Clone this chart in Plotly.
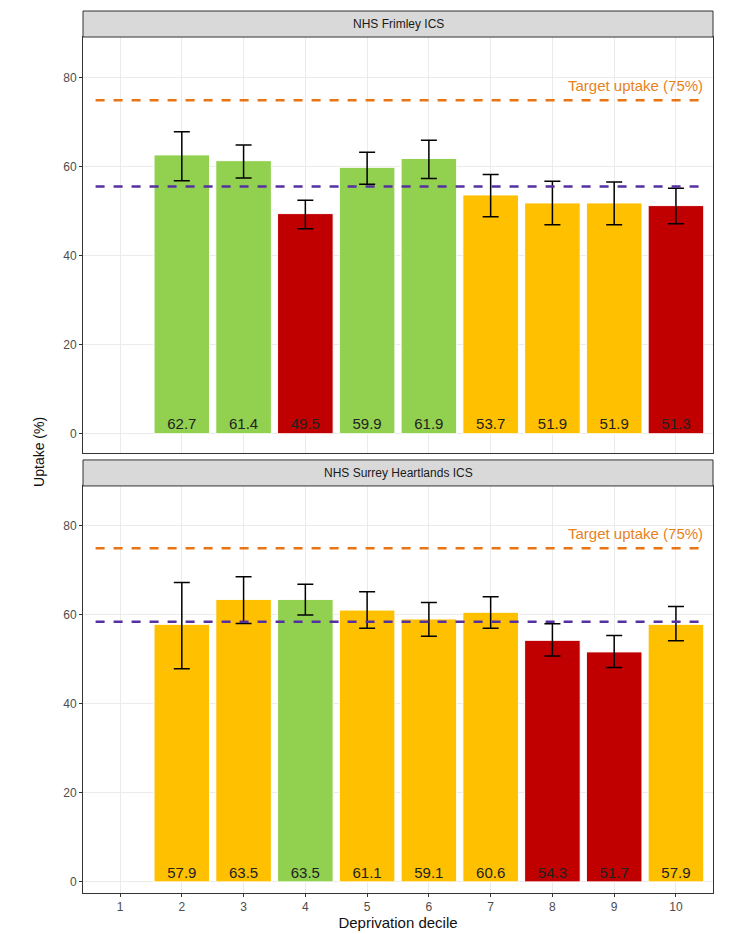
import plotly.graph_objects as go

deciles = [2, 3, 4, 5, 6, 7, 8, 9, 10]

frimley_uptake = [62.7, 61.4, 49.5, 59.9, 61.9, 53.7, 51.9, 51.9, 51.3]
frimley_upper = [67.9, 64.9, 52.5, 63.3, 66.0, 58.3, 56.8, 56.6, 55.2]
frimley_lower = [56.9, 57.5, 46.1, 56.1, 57.4, 48.8, 47.0, 47.0, 47.2]
frimley_rag = ["g", "g", "r", "g", "g", "a", "a", "a", "r"]
frimley_mean = 55.6

surrey_uptake = [57.9, 63.5, 63.5, 61.1, 59.1, 60.6, 54.3, 51.7, 57.9]
surrey_upper = [67.3, 68.6, 66.9, 65.2, 62.8, 64.1, 58.0, 55.4, 61.9]
surrey_lower = [47.9, 58.1, 60.0, 57.0, 55.2, 57.0, 50.8, 48.2, 54.2]
surrey_rag = ["a", "a", "g", "a", "a", "a", "r", "r", "a"]
surrey_mean = 58.5

target = 75
colours = {"g": "#92D050", "r": "#C00000", "a": "#FFC000"}

fig = go.Figure()

# name, values, upper, lower, rag, mean, x axis, y axis, domain, y range
panels = [
    ("NHS Frimley ICS", frimley_uptake, frimley_upper, frimley_lower, frimley_rag, frimley_mean,
     "x", "y", [0.499, 0.9705], [-4.3, 89.2]),
    ("NHS Surrey Heartlands ICS", surrey_uptake, surrey_upper, surrey_lower, surrey_rag, surrey_mean,
     "x2", "y2", [0.0, 0.4615], [-2.5, 89.0]),
]

for name, up, hi, lo, rag, mean, xax, yax, dom, rng in panels:
    fig.add_trace(go.Bar(
        x=deciles, y=up, xaxis=xax, yaxis=yax, width=0.9,
        marker=dict(color=[colours[c] for c in rag], line=dict(color="white", width=1)),
        error_y=dict(type="data", symmetric=False,
                     array=[h - u for h, u in zip(hi, up)],
                     arrayminus=[u - l for u, l in zip(up, lo)],
                     color="black", thickness=1.5, width=8),
        showlegend=False))
    fig.add_trace(go.Scatter(
        x=deciles, y=[1.8] * len(deciles), xaxis=xax, yaxis=yax, mode="text",
        text=[f"{v:.1f}" for v in up], textfont=dict(size=15, color="#222"),
        showlegend=False, hoverinfo="skip"))
    for val, col in [(target, "#E87511"), (mean, "#5530A0")]:
        fig.add_shape(type="line", xref=xax + " domain", yref=yax, x0=0.02, x1=0.98, y0=val, y1=val,
                      line=dict(color=col, dash="dash", width=2.5))
    fig.add_annotation(x=10.47, y=target + 1, xref=xax, yref=yax, text="Target uptake (75%)",
                       showarrow=False, xanchor="right", yanchor="bottom",
                       font=dict(size=15, color="#E8821E"))
    # strip header
    top = dom[1]
    fig.add_shape(type="rect", xref="paper", yref="paper", x0=0, x1=1, y0=top, y1=top + 0.0295,
                  fillcolor="#D9D9D9", line=dict(color="#333", width=1))
    fig.add_annotation(x=0.5, y=top + 0.0147, xref="paper", yref="paper", text=name,
                       showarrow=False, yanchor="middle", font=dict(size=12, color="#1a1a1a"))
    fig.layout["yaxis" if yax == "y" else "yaxis2"] = dict(
        domain=dom, range=rng, tickvals=[0, 20, 40, 60, 80], automargin=False,
        showgrid=True, gridcolor="#EBEBEB", zeroline=False,
        ticks="outside", ticklen=3, tickcolor="#333",
        tickfont=dict(size=12, color="#4D4D4D"),
        showline=True, mirror=True, linecolor="#333", linewidth=1, anchor=xax)

xaxis_common = dict(range=[0.4, 10.6], tickvals=list(range(1, 11)), showgrid=True, automargin=False,
                    gridcolor="#EBEBEB", zeroline=False, showline=True, mirror=True,
                    linecolor="#333", linewidth=1)
fig.update_layout(
    xaxis=dict(**xaxis_common, showticklabels=False, anchor="y"),
    xaxis2=dict(**xaxis_common, anchor="y2", ticks="outside", ticklen=3,
                tickcolor="#333", tickfont=dict(size=12, color="#4D4D4D"),
                title=dict(text="Deprivation decile", font=dict(size=15, color="#111"), standoff=4)),
)

fig.add_annotation(x=-0.07, y=0.5, xref="paper", yref="paper", text="Uptake (%)", textangle=-90,
                   xanchor="center", showarrow=False, font=dict(size=14, color="#111"))

fig.update_layout(width=733, height=934, margin=dict(l=75, r=28, t=3, b=49, autoexpand=False),
                  plot_bgcolor="white", paper_bgcolor="white",
                  font=dict(family="Liberation Sans, Arial, sans-serif"))

fig.write_html("out.html")
